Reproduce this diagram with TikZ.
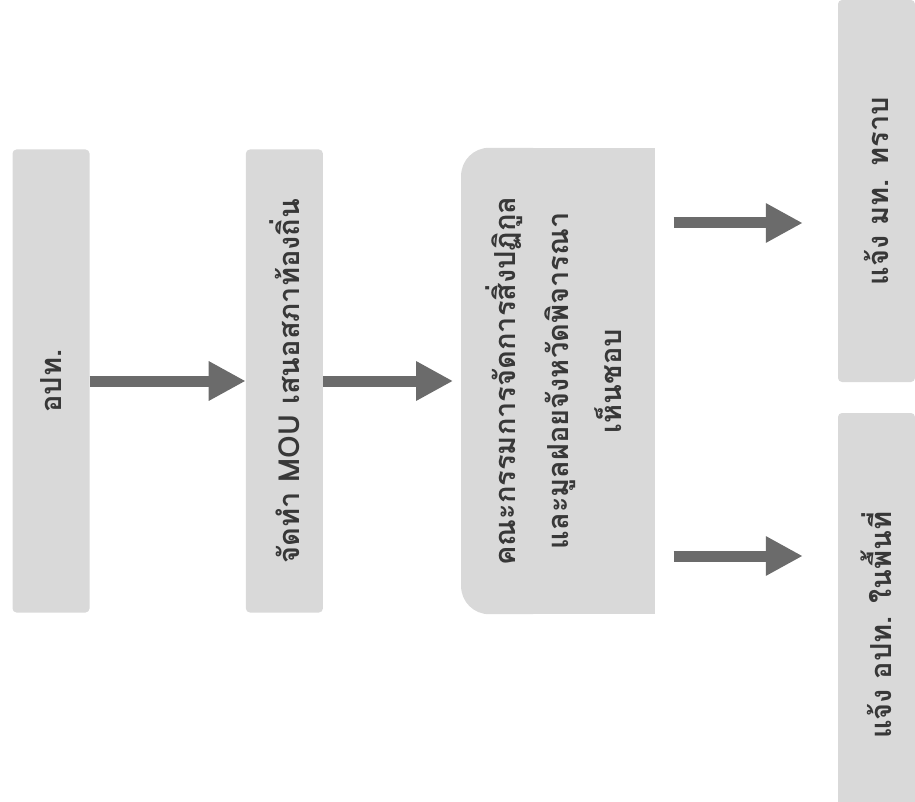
\documentclass[tikz,border=0pt]{standalone}
\usepackage{fontspec}
\usepackage{tikz}
\usetikzlibrary{arrows.meta}
\usetikzlibrary{positioning}
\usetikzlibrary{backgrounds}
\newfontfamily\thaifont[Script=Thai]{Loma}
\definecolor{mgray}{rgb}{0.85, 0.85, 0.85}
\definecolor{dgray}{rgb}{0.42, 0.42, 0.42}
\definecolor{tgray}{rgb}{0.22, 0.22, 0.22}
\tikzset{box/.style = {fill = mgray, rounded corners = 4pt, inner sep = 0,
                       minimum width = 77pt, text = tgray,
                       font = \thaifont\bfseries\fontsize{29}{53}\selectfont}}
\tikzset{blk/.style = {draw = dgray, line width = 11pt,
                       -{Triangle[length = 37pt, width = 37pt]}}}

\begin{document}
\begin{tikzpicture}[x = 1pt, y = -1pt]
    \useasboundingbox (0, 0) rectangle (915, 802);
    \node [box, minimum height = 463pt] (apt) at (51, 381) {\rotatebox{90}{อปท.}};
    \node [box, minimum height = 463pt, right = 156pt of apt] (mou) {\rotatebox{90}{จัดทำ MOU เสนอสภาท้องถิ่น}};
    \node [box, fill = none, minimum width = 193pt, minimum height = 466pt, right = 138pt of mou] (cmte)
      {\rotatebox{90}{\begin{tabular}{@{}c@{}}คณะกรรมการจัดการสิ่งปฏิกูล\\และมูลฝอยจังหวัดพิจารณา\\เห็นชอบ\end{tabular}}};
    \node [box, minimum height = 382pt] (mt) at (876.5, 191) {\rotatebox{90}{แจ้ง มท. ทราบ}};
    \node [box, minimum height = 424pt] (apl) at (876.5, 625) {\rotatebox{90}{แจ้ง อปท. ในพื้นที่}};
    \begin{scope}[on background layer]
      \fill [mgray, rounded corners = 28pt] (cmte.north west) rectangle (cmte.south);
      \fill [mgray] ([xshift = -30pt]cmte.north) rectangle (cmte.south east);
    \end{scope}
    \draw [blk] (apt) -- (mou);
    \draw [blk, shorten >= 8pt] (mou) -- (cmte);
    \coordinate (up) at ([yshift = 158pt]cmte.east);
    \coordinate (dn) at ([yshift = -175pt]cmte.east);
    \draw [blk, shorten <= 19pt, shorten >= 35pt] (up) -- (up -| mt.west);
    \draw [blk, shorten <= 19pt, shorten >= 35pt] (dn) -- (dn -| apl.west);
  \end{tikzpicture}
\end{document}
